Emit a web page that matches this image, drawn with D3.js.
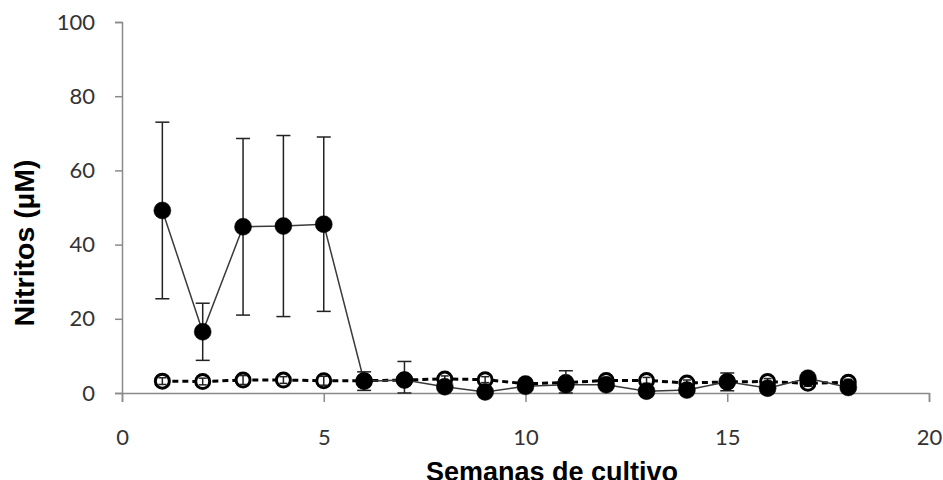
<!DOCTYPE html>
<html>
<head>
<meta charset="utf-8">
<script src="https://cdn.jsdelivr.net/npm/d3@7"></script>
<style>
  html, body { margin: 0; padding: 0; background: #fff; }
  svg { display: block; }
</style>
</head>
<body>
<svg id="chart" width="943" height="480"></svg>
<script>
// Weeks of culture
const weeks = [1, 2, 3, 4, 5, 6, 7, 8, 9, 10, 11, 12, 13, 14, 15, 16, 17, 18];

// Nitrite (µM), series with filled markers and solid line
const filledMean = [49.2, 16.5, 44.8, 45.0, 45.5, 3.2, 3.5, 1.7, 0.3, 1.8, 2.2, 2.2, 0.5, 0.8, 3.0, 1.3, 4.0, 1.5];
const filledErr  = [23.8, 7.7, 23.8, 24.4, 23.5, 2.5, 5.0, 1.0, 0.5, 1.0, 3.8, 1.0, 0.5, 0.5, 2.4, 1.0, 1.0, 1.0];

// Nitrite (µM), series with open markers and dashed line
const openMean = [3.2, 3.1, 3.5, 3.5, 3.3, 3.3, 3.5, 3.8, 3.6, 2.5, 2.8, 3.4, 3.4, 2.7, 3.0, 3.1, 2.6, 2.9];
const openErr  = [0.9, 0.9, 1.2, 0.9, 1.2, 0.8, 0.8, 0.8, 0.8, 0.8, 0.8, 0.8, 0.8, 0.8, 0.8, 0.8, 0.8, 0.8];

const xTicks = [0, 5, 10, 15, 20];
const yTicks = [0, 20, 40, 60, 80, 100];

const svg = d3.select("#chart");

const x = d3.scaleLinear().domain([0, 20]).range([122, 929]);
const y = d3.scaleLinear().domain([0, 100]).range([393, 22]);

const axisColor = "#8a8a8a";
const tickFont = "Lato, 'Open Sans', sans-serif";

// Y axis
const yAxis = svg.append("g")
  .attr("transform", `translate(${x(0)},0)`)
  .call(d3.axisLeft(y).tickValues(yTicks).tickSize(7).tickPadding(20).tickFormat(d3.format("d")));
yAxis.select(".domain").attr("stroke", axisColor).attr("stroke-width", 1.5);
yAxis.selectAll(".tick line").attr("stroke", axisColor).attr("stroke-width", 1.5);
yAxis.selectAll(".tick text")
  .attr("fill", "#333")
  .style("font-family", tickFont)
  .style("font-size", "22px");

// X axis
const xAxis = svg.append("g")
  .attr("transform", `translate(0,${y(0)})`)
  .call(d3.axisBottom(x).tickValues(xTicks).tickSize(9).tickPadding(27).tickFormat(d3.format("d")));
xAxis.select(".domain").attr("stroke", axisColor).attr("stroke-width", 1.5);
xAxis.selectAll(".tick line").attr("stroke", axisColor).attr("stroke-width", 1.5);
xAxis.selectAll(".tick text")
  .attr("fill", "#333")
  .style("font-family", tickFont)
  .style("font-size", "22px");

// Axis titles
svg.append("text")
  .attr("x", 552)
  .attr("y", 481)
  .attr("text-anchor", "middle")
  .style("font-family", "'Liberation Sans', Arial, sans-serif")
  .style("font-weight", "bold")
  .style("font-size", "27px")
  .attr("fill", "#000")
  .text("Semanas de cultivo");

svg.append("text")
  .attr("transform", "translate(34,243) rotate(-90)")
  .attr("text-anchor", "middle")
  .style("font-family", "'Liberation Sans', Arial, sans-serif")
  .style("font-weight", "bold")
  .style("font-size", "28.5px")
  .attr("fill", "#000")
  .text("Nitritos (µM)");

function drawSeries(mean, err, opts) {
  const data = weeks.map((w, i) => ({ w, m: mean[i], e: err[i] }));
  const g = svg.append("g");

  g.append("path")
    .datum(data)
    .attr("fill", "none")
    .attr("stroke", opts.lineColor)
    .attr("stroke-width", opts.lineWidth)
    .attr("stroke-dasharray", opts.dash)
    .attr("d", d3.line().x(d => x(d.w)).y(d => y(d.m)));

  const drawMarkers = () => g.selectAll("circle").data(data).join("circle")
    .attr("cx", d => x(d.w))
    .attr("cy", d => y(d.m))
    .attr("r", opts.r)
    .attr("fill", opts.fill)
    .attr("stroke", "#000")
    .attr("stroke-width", opts.strokeWidth);

  const drawErrors = () => {
    const eb = g.selectAll(".eb").data(data).join("g").attr("class", "eb");
    eb.append("line")
      .attr("x1", d => x(d.w)).attr("x2", d => x(d.w))
      .attr("y1", d => y(d.m + d.e)).attr("y2", d => y(Math.max(0, d.m - d.e)))
      .attr("stroke", "#222").attr("stroke-width", 1.5);
    eb.append("line")
      .attr("x1", d => x(d.w) - opts.cap).attr("x2", d => x(d.w) + opts.cap)
      .attr("y1", d => y(d.m + d.e)).attr("y2", d => y(d.m + d.e))
      .attr("stroke", "#222").attr("stroke-width", 1.5);
    eb.append("line")
      .attr("x1", d => x(d.w) - opts.cap).attr("x2", d => x(d.w) + opts.cap)
      .attr("y1", d => y(Math.max(0, d.m - d.e))).attr("y2", d => y(Math.max(0, d.m - d.e)))
      .attr("stroke", "#222").attr("stroke-width", 1.5);
  };

  if (opts.errorsOnTop) { drawMarkers(); drawErrors(); }
  else { drawErrors(); drawMarkers(); }
}

// Open markers underneath, filled markers on top
drawSeries(openMean, openErr, {
  lineColor: "#000", lineWidth: 3, dash: "6,4",
  r: 7, fill: "#fff", strokeWidth: 3, cap: 4, errorsOnTop: true
});
drawSeries(filledMean, filledErr, {
  lineColor: "#3a3a3a", lineWidth: 1.5, dash: null,
  r: 8.5, fill: "#000", strokeWidth: 0.5, cap: 7, errorsOnTop: false
});
</script>
</body>
</html>
